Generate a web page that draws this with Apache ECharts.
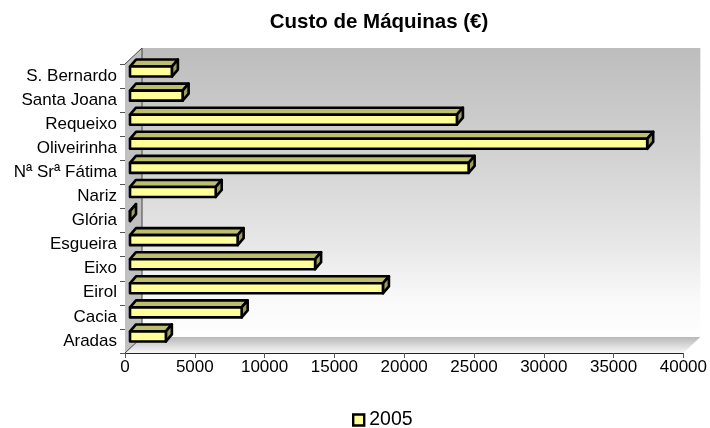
<!DOCTYPE html>
<html><head><meta charset="utf-8">
<style>html,body{margin:0;padding:0;background:#fff}#c{width:710px;height:428px}</style>
<script src="https://cdn.jsdelivr.net/npm/echarts@6/dist/echarts.min.js"></script>
</head><body><div id="c"></div>
<script>
const categories = ['Aradas','Cacia','Eirol','Eixo','Esgueira','Glória','Nariz','Nª Srª Fátima','Oliveirinha','Requeixo','Santa Joana','S. Bernardo'];
const values2005 = [2570,8000,18120,13260,7710,0,6140,24260,37050,23420,3770,3000];
const seriesName = '2005';
const chartTitle = 'Custo de Máquinas (€)';
const FONT = '"Liberation Sans", Arial, sans-serif';
const DEPTH_X = 17, DEPTH_Y = 16;      // 3D box depth
const BAR_X = 5, BAR_Y = 4.5;          // bar offset into the box
const BAR_DX = 6, BAR_DY = 7;          // bar depth
const BAR_H = 10;

const chart = echarts.init(document.getElementById('c'), null, {renderer:'canvas'});
function grad(stops){return new echarts.graphic.LinearGradient(0,0,0,1,stops.map(s=>({offset:s[0],color:s[1]})));}

chart.setOption({
  animation:false,
  title:{text:chartTitle,left:374,top:7,textAlign:'center',
    textStyle:{fontFamily:FONT,fontSize:20.5,fontWeight:'bold',color:'#000'}},
  legend:{data:[seriesName],left:352,top:410,itemWidth:11,itemHeight:11,itemGap:5,padding:0,
    textStyle:{fontFamily:FONT,fontSize:19.5,color:'#000',padding:[2,0,0,0]},
    icon:'rect',
    itemStyle:{color:'#ffff99',borderColor:'#000',borderWidth:2.4}},
  grid:{left:125,right:25,top:64,height:289,containLabel:false},
  xAxis:{type:'value',min:0,max:40000,interval:5000,
    axisLine:{show:true,lineStyle:{color:'#222',width:1}},
    axisTick:{show:true,length:5,lineStyle:{color:'#555',width:1}},
    splitLine:{show:false},
    axisLabel:{fontFamily:FONT,fontSize:17,color:'#000',margin:6,showMinLabel:true,showMaxLabel:true,
      formatter:v=>String(v)}},
  yAxis:{type:'category',data:categories,
    axisLine:{show:true,lineStyle:{color:'#222',width:1}},
    axisTick:{show:true,length:5,alignWithLabel:false,lineStyle:{color:'#555',width:1}},
    axisLabel:{fontFamily:FONT,fontSize:17,color:'#000',margin:8,interval:0}},
  series:[
    {type:'custom',name:'box',silent:true,z:1,data:[0],encode:{x:[],y:[]},clip:false,
     renderItem(params,api){
       const c=params.coordSys, x=c.x,y=c.y,w=c.width,h=c.height;
       return {type:'group',children:[
         {type:'rect',shape:{x:x+DEPTH_X,y:y-DEPTH_Y,width:w,height:h},style:{fill:grad([[0,'#bdbdbd'],[.4,'#d4d4d4'],[.7,'#e9e9e9'],[.88,'#fafafa'],[1,'#fefefe']])}},
         {type:'polygon',shape:{points:[[x,y+h],[x+DEPTH_X,y+h-DEPTH_Y],[x+DEPTH_X+w,y+h-DEPTH_Y],[x+w,y+h]]},style:{fill:grad([[0,'#b8b8b8'],[1,'#f8f8f8']])}},
         {type:'polygon',shape:{points:[[x,y],[x+DEPTH_X,y-DEPTH_Y],[x+DEPTH_X,y+h-DEPTH_Y],[x,y+h]]},style:{fill:'#c0c0c0'}},
         {type:'polyline',shape:{points:[[x,y],[x+DEPTH_X,y-DEPTH_Y],[x+DEPTH_X,y+h-DEPTH_Y],[x,y+h]]},style:{fill:'none',stroke:'#444',lineWidth:1}}
       ]};
     }},
    {type:'custom',name:seriesName,z:3,clip:false,
     data:values2005.map((v,i)=>[v,i]),
     encode:{x:0,y:1},
     itemStyle:{color:'#ffff99'},
     renderItem(params,api){
       const p=api.coord([api.value(0),api.value(1)]);
       const x0=api.coord([0,api.value(1)])[0]+BAR_X;
       const x1=p[0]+BAR_X;
       const top=p[1]-BAR_Y-BAR_H/2, bot=top+BAR_H;
       const st={stroke:'#000',lineWidth:2.6,lineJoin:'round'};
       return {type:'group',children:[
         {type:'polygon',shape:{points:[[x0,top],[x0+BAR_DX,top-BAR_DY],[x1+BAR_DX,top-BAR_DY],[x1,top]]},style:{...st,fill:'#bdbd6e'}},
         {type:'polygon',shape:{points:[[x1,top],[x1+BAR_DX,top-BAR_DY],[x1+BAR_DX,bot-BAR_DY],[x1,bot]]},style:{...st,fill:'#9c9c5c'}},
         {type:'rect',shape:{x:x0,y:top,width:x1-x0,height:BAR_H},style:{...st,fill:'#ffff99'}}
       ]};
     }}
  ]
});
</script></body></html>
